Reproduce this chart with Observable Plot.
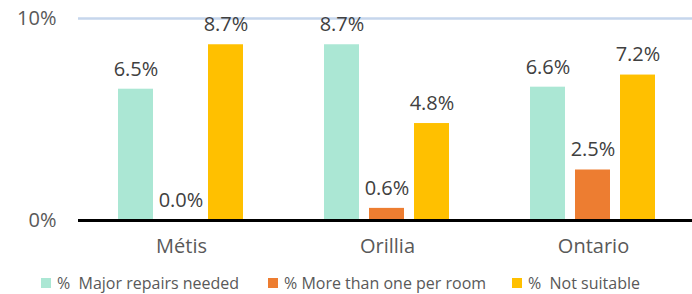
<!DOCTYPE html>
<html>
<head>
<meta charset="utf-8">
<script src="https://cdn.jsdelivr.net/npm/d3@7"></script>
<script src="https://cdn.jsdelivr.net/npm/@observablehq/plot@0.6"></script>
<style>
  body { margin: 0; background: #fff; font-family: "Open Sans", sans-serif; }
  #chart { position: relative; width: 692px; height: 294px; overflow: hidden; }
  #legend { position: absolute; top: 272px; left: 0; width: 692px; height: 22px; font-size: 16px; color: #595959; }
  .item { position: absolute; top: 0; display: flex; align-items: center; white-space: pre; }
  .sw { width: 10px; height: 10px; margin-right: 6px; }
</style>
</head>
<body>
<div id="chart"></div>
<script>
const regions = ["Métis", "Orillia", "Ontario"];
const series = ["%  Major repairs needed", "% More than one per room", "%  Not suitable"];
const majorRepairs = [6.5, 8.7, 6.6];
const crowded = [0.0, 0.6, 2.5];
const notSuitable = [8.7, 4.8, 7.2];
const colors = ["#ABE7D4", "#ED7D31", "#FFC000"];
const yTicks = [0, 10];

const allValues = [majorRepairs, crowded, notSuitable];
const data = [];
regions.forEach((r, i) => series.forEach((s, j) => data.push({region: r, series: s, value: allValues[j][i]})));

const chart = Plot.plot({
  width: 692,
  height: 266,
  marginLeft: 78,
  marginRight: -4,
  marginTop: 18,
  marginBottom: 46,
  style: {fontFamily: "'Open Sans', sans-serif", color: "#595959", background: "transparent"},
  fx: {domain: regions, padding: 0, label: null, axis: "bottom", tickSize: 0, tickPadding: 18},
  x: {domain: series, paddingInner: 0.22, paddingOuter: 0.85, axis: null},
  y: {domain: [0, 10], ticks: yTicks, tickFormat: d => d + "%", label: null, tickSize: 0, tickPadding: 22},
  color: {domain: series, range: colors},
  marks: [
    Plot.ruleY([10], {stroke: "#C6D6EC", strokeWidth: 2.5}),
    Plot.barY(data, {fx: "region", x: "series", y: "value", fill: "series"}),
    Plot.ruleY([0], {stroke: "#000", strokeWidth: 3}),
    Plot.text(data, {fx: "region", x: "series", y: "value", text: d => d.value.toFixed(1) + "%", dy: -20, lineAnchor: "middle", fontSize: 20, fill: "#404040"})
  ]
});
d3.select(chart).selectAll("[aria-label='y-axis tick label'], [aria-label='fx-axis tick label']").attr("font-size", 20);
document.getElementById("chart").appendChild(chart);

const legend = document.createElement("div");
legend.id = "legend";
const lefts = [41, 268, 512];
series.forEach((s, i) => {
  const it = document.createElement("div");
  it.className = "item";
  it.style.left = lefts[i] + "px";
  const sw = document.createElement("span");
  sw.className = "sw";
  sw.style.background = colors[i];
  const tx = document.createElement("span");
  tx.textContent = s;
  it.appendChild(sw);
  it.appendChild(tx);
  legend.appendChild(it);
});
document.getElementById("chart").appendChild(legend);
</script>
</body>
</html>
